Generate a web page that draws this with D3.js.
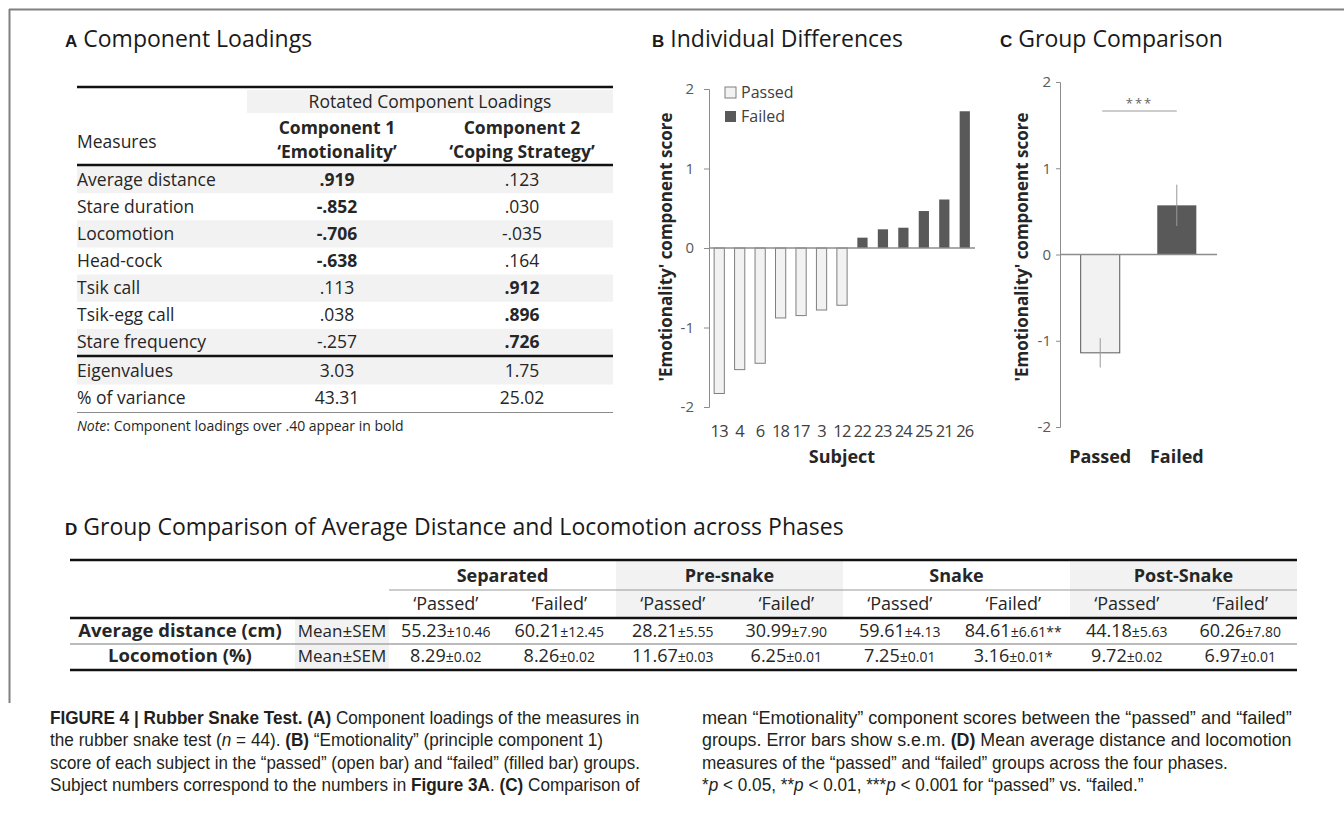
<!DOCTYPE html>
<html><head><meta charset="utf-8">
<script src="https://cdn.jsdelivr.net/npm/d3@7"></script>
<style>body{margin:0;background:#fff}svg{display:block}</style>
</head><body>
<svg id="fig" width="1344" height="818"></svg>
<script>
// ---------------- DATA ----------------
const loadMeasures = ["Average distance","Stare duration","Locomotion","Head-cock","Tsik call","Tsik-egg call","Stare frequency"];
const loadComp1 = [".919","-.852","-.706","-.638",".113",".038","-.257"];
const loadComp2 = [".123",".030","-.035",".164",".912",".896",".726"];
const boldThreshold = 0.40;
const summaryLabels = ["Eigenvalues","% of variance"];
const summaryComp1 = ["3.03","43.31"];
const summaryComp2 = ["1.75","25.02"];

const subjects = ["13","4","6","18","17","3","12","22","23","24","25","21","26"];
const subjectScores = [-1.83,-1.53,-1.45,-0.88,-0.85,-0.78,-0.72,0.13,0.235,0.255,0.465,0.61,1.72];
const subjectGroup = ["Passed","Passed","Passed","Passed","Passed","Passed","Passed","Failed","Failed","Failed","Failed","Failed","Failed"];

const groups = ["Passed","Failed"];
const groupMeans = [-1.14, 0.57];
const groupSEM = [0.17, 0.24];
const yTicks = [-2,-1,0,1,2];

const phases = ["Separated","Pre-snake","Snake","Post-Snake"];
const subHeads = ["‘Passed’","‘Failed’"];
const distMean = ["55.23","60.21","28.21","30.99","59.61","84.61","44.18","60.26"];
const distSEM  = ["10.46","12.45","5.55","7.90","4.13","6.61","5.63","7.80"];
const distSig  = ["","","","","","**","",""];
const locoMean = ["8.29","8.26","11.67","6.25","7.25","3.16","9.72","6.97"];
const locoSEM  = ["0.02","0.02","0.03","0.01","0.01","0.01","0.02","0.01"];
const locoSig  = ["","","","","","*","",""];

// ---------------- SETUP ----------------
const svg = d3.select("#fig");
const SANS = "'Open Sans', sans-serif";
const ARIAL = "'Liberation Sans', Arial, sans-serif";
const TXT = "#262626", SHADE = "#f2f2f2", AX = "#8c8c8c";
const fmtTick = d => String(d);

// frame
svg.append("line").attr("x1",9).attr("x2",1344).attr("y1",9.5).attr("y2",9.5).attr("stroke","#808080").attr("stroke-width",2);
svg.append("line").attr("x1",9.5).attr("x2",9.5).attr("y1",9).attr("y2",703).attr("stroke","#808080").attr("stroke-width",2);

function panelTitle(x, y, letter, text) {
  const t = svg.append("text").attr("x",x).attr("y",y).attr("font-family",SANS).attr("font-size",23).attr("fill","#1a1a1a");
  t.append("tspan").attr("font-family",ARIAL).attr("font-weight","bold").attr("font-size",17).text(letter);
  t.append("tspan").attr("dx",6).text(text);
}
function txt(g, x, y, s, opts={}) {
  return g.append("text").attr("x",x).attr("y",y)
    .attr("font-family",opts.font||SANS).attr("font-size",opts.size||17.5)
    .attr("font-weight",opts.bold?"bold":"normal").attr("fill",opts.fill||TXT)
    .attr("text-anchor",opts.anchor||"start").text(s);
}
function hline(g, x1, x2, y, w, c) {
  g.append("line").attr("x1",x1).attr("x2",x2).attr("y1",y).attr("y2",y).attr("stroke",c||"#111").attr("stroke-width",w);
}

// ---------------- PANEL A ----------------
panelTitle(65, 47, "A", "Component Loadings");
const gA = svg.append("g");
const A = {left:77, right:613, c1:337, c2:522};
const rowA = d3.scaleBand().domain(loadMeasures).range([166,356]);
const rowS = d3.scaleBand().domain(summaryLabels).range([357,412]);
gA.append("rect").attr("x",247).attr("y",90).attr("width",A.right-247).attr("height",23).attr("fill",SHADE);
txt(gA, 430, 108, "Rotated Component Loadings", {anchor:"middle"});
txt(gA, A.c1, 134, "Component 1", {anchor:"middle", bold:true});
txt(gA, A.c1, 158, "‘Emotionality’", {anchor:"middle", bold:true});
txt(gA, A.c2, 134, "Component 2", {anchor:"middle", bold:true});
txt(gA, A.c2, 158, "‘Coping Strategy’", {anchor:"middle", bold:true});
txt(gA, A.left, 148, "Measures");
loadMeasures.forEach((m,i) => {
  const y = rowA(m), h = rowA.bandwidth();
  if (i % 2 === 0) gA.append("rect").attr("x",A.left).attr("y",y).attr("width",A.right-A.left).attr("height",h).attr("fill",SHADE);
  const by = y + h/2 + 6;
  txt(gA, A.left, by, m);
  txt(gA, A.c1, by, loadComp1[i], {anchor:"middle", bold: Math.abs(parseFloat(loadComp1[i])) > boldThreshold});
  txt(gA, A.c2, by, loadComp2[i], {anchor:"middle", bold: Math.abs(parseFloat(loadComp2[i])) > boldThreshold});
});
summaryLabels.forEach((m,i) => {
  const y = rowS(m), h = rowS.bandwidth();
  if (i % 2 === 0) gA.append("rect").attr("x",A.left).attr("y",y).attr("width",A.right-A.left).attr("height",h).attr("fill",SHADE);
  const by = y + h/2 + 6;
  txt(gA, A.left, by, m);
  txt(gA, A.c1, by, summaryComp1[i], {anchor:"middle"});
  txt(gA, A.c2, by, summaryComp2[i], {anchor:"middle"});
});
hline(gA, A.left, A.right, 87, 2.5);
hline(gA, A.left, A.right, 165, 2.5);
hline(gA, A.left, A.right, 356, 2.5);
hline(gA, A.left, A.right, 412.5, 1.2, "#8a8a8a");
const note = gA.append("text").attr("x",A.left).attr("y",431).attr("font-family",SANS).attr("font-size",14).attr("fill",TXT);
note.append("tspan").attr("font-style","italic").text("Note");
note.append("tspan").text(": Component loadings over .40 appear in bold");

// ---------------- PANEL B ----------------
panelTitle(652, 47, "B", "Individual Differences");
const gB = svg.append("g");
const bX = d3.scaleBand().domain(subjects).range([709,975]).paddingInner(0.5).paddingOuter(0.25);
const bY = d3.scaleLinear().domain([-2,2]).range([407,89]);
gB.selectAll("rect.bar").data(subjects).join("rect").attr("class","bar")
  .attr("x", d => bX(d)).attr("width", bX.bandwidth())
  .attr("y", (d,i) => bY(Math.max(0, subjectScores[i])))
  .attr("height", (d,i) => Math.abs(bY(subjectScores[i]) - bY(0)))
  .attr("fill", (d,i) => subjectGroup[i] === "Passed" ? SHADE : "#595959")
  .attr("stroke", (d,i) => subjectGroup[i] === "Passed" ? "#7f7f7f" : "none")
  .attr("stroke-width", 1);
const bAxis = gB.append("g").attr("transform","translate(709,0)")
  .call(d3.axisLeft(bY).tickValues(yTicks).tickFormat(fmtTick).tickSize(5).tickPadding(10));
bAxis.select(".domain").attr("stroke",AX);
bAxis.selectAll(".tick line").attr("stroke",AX);
bAxis.selectAll(".tick text").attr("font-family",SANS).attr("font-size",15).attr("fill","#595959");
gB.append("line").attr("x1",bX.range()[0]).attr("x2",bX.range()[1]).attr("y1",bY(0)).attr("y2",bY(0)).attr("stroke",AX).attr("stroke-width",1.3);
gB.selectAll("text.xl").data(subjects).join("text").attr("class","xl")
  .attr("x", d => bX(d) + bX.bandwidth()/2).attr("y", 437)
  .attr("text-anchor","middle").attr("font-family",SANS).attr("font-size",16.5).attr("fill","#404040")
  .attr("letter-spacing",-0.8).text(d => d);
txt(gB, 842, 463, "Subject", {anchor:"middle", bold:true, size:18});
gB.append("text").attr("transform","translate(672,247) rotate(-90)").attr("text-anchor","middle")
  .attr("font-family",SANS).attr("font-size",17).attr("font-weight","bold").attr("fill",TXT)
  .text("'Emotionality' component score");
const legB = gB.append("g");
groups.forEach((g,i) => {
  legB.append("rect").attr("x",725).attr("y",87 + i*24).attr("width",11).attr("height",11)
    .attr("fill", i===0 ? SHADE : "#595959").attr("stroke", i===0 ? "#7f7f7f" : "none");
  txt(legB, 741, 98 + i*24, g, {size:16, fill:"#404040"});
});

// ---------------- PANEL C ----------------
panelTitle(1000, 47, "C", "Group Comparison");
const gC = svg.append("g");
const cX = d3.scaleBand().domain(groups).range([1060,1217]).paddingInner(0.49).paddingOuter(0.27);
const cY = d3.scaleLinear().domain([-2,2]).range([427,82]);
gC.selectAll("rect.bar").data(groups).join("rect").attr("class","bar")
  .attr("x", d => cX(d)).attr("width", cX.bandwidth())
  .attr("y", (d,i) => cY(Math.max(0, groupMeans[i])))
  .attr("height", (d,i) => Math.abs(cY(groupMeans[i]) - cY(0)))
  .attr("fill", (d,i) => i===0 ? SHADE : "#595959")
  .attr("stroke", (d,i) => i===0 ? "#595959" : "none").attr("stroke-width",1);
gC.selectAll("line.err").data(groups).join("line").attr("class","err")
  .attr("x1", d => cX(d)+cX.bandwidth()/2).attr("x2", d => cX(d)+cX.bandwidth()/2)
  .attr("y1", (d,i) => cY(groupMeans[i]-groupSEM[i])).attr("y2", (d,i) => cY(groupMeans[i]+groupSEM[i]))
  .attr("stroke","#999").attr("stroke-width",1);
const cAxis = gC.append("g").attr("transform","translate(1060,0)")
  .call(d3.axisLeft(cY).tickValues(yTicks).tickFormat(fmtTick).tickSize(4).tickPadding(5));
cAxis.select(".domain").attr("stroke",AX);
cAxis.selectAll(".tick line").attr("stroke",AX);
cAxis.selectAll(".tick text").attr("font-family",SANS).attr("font-size",15).attr("fill","#595959");
gC.append("line").attr("x1",cX.range()[0]).attr("x2",cX.range()[1]).attr("y1",cY(0)).attr("y2",cY(0)).attr("stroke",AX).attr("stroke-width",1.3);
groups.forEach(g => txt(gC, cX(g)+cX.bandwidth()/2, 463, g, {anchor:"middle", bold:true, size:18}));
gC.append("text").attr("transform","translate(1028,247) rotate(-90)").attr("text-anchor","middle")
  .attr("font-family",SANS).attr("font-size",17).attr("font-weight","bold").attr("fill",TXT)
  .text("'Emotionality' component score");
const sx1 = cX("Passed")+cX.bandwidth()/2+2, sx2 = cX("Failed")+cX.bandwidth()/2;
gC.append("line").attr("x1",sx1).attr("x2",sx2).attr("y1",111).attr("y2",111).attr("stroke","#999").attr("stroke-width",1);
txt(gC, (sx1+sx2)/2, 108, "***", {anchor:"middle", size:13, fill:"#666"}).attr("letter-spacing",2);

// ---------------- PANEL D ----------------
panelTitle(65, 535, "D", "Group Comparison of Average Distance and Locomotion across Phases");
const gD = svg.append("g");
const D = {left:70, right:1297, meanL:295, colStart:389};
const colD = d3.scaleBand().domain(d3.range(8)).range([D.colStart, D.right]);
const phaseX = i => colD(2*i);
const phaseW = colD.bandwidth()*2;
[1,3].forEach(i => gD.append("rect").attr("x",phaseX(i)).attr("y",561).attr("width",phaseW).attr("height",57).attr("fill",SHADE));
gD.append("rect").attr("x",D.meanL).attr("y",619).attr("width",D.colStart-D.meanL).attr("height",51).attr("fill",SHADE);
phases.forEach((p,i) => txt(gD, phaseX(i)+phaseW/2, 582, p, {anchor:"middle", bold:true, size:18}));
d3.range(8).forEach(j => txt(gD, colD(j)+colD.bandwidth()/2, 610, subHeads[j%2], {anchor:"middle", size:18}));
const rowsD = [
  {label:"Average distance (cm)", mean:distMean, sem:distSEM, sig:distSig, y:637},
  {label:"Locomotion (%)", mean:locoMean, sem:locoSEM, sig:locoSig, y:662}
];
rowsD.forEach(r => {
  txt(gD, 180, r.y, r.label, {anchor:"middle", bold:true, size:18.5});
  txt(gD, 342, r.y, "Mean±SEM", {anchor:"middle", size:17});
  d3.range(8).forEach(j => {
    const t = gD.append("text").attr("x", colD(j)+colD.bandwidth()/2).attr("y", r.y)
      .attr("text-anchor","middle").attr("font-family",SANS).attr("font-size",18).attr("fill",TXT);
    t.append("tspan").text(r.mean[j]);
    t.append("tspan").attr("font-size",14).text("±" + r.sem[j] + r.sig[j]);
  });
});
hline(gD, D.left, D.right, 560, 2.5);
hline(gD, D.colStart, D.right, 590, 1.2, "#9a9a9a");
hline(gD, D.left, D.right, 618, 2.5);
hline(gD, D.left, D.right, 644, 1.5, "#a6a6a6");
hline(gD, D.left, D.right, 670, 2.5);

// ---------------- CAPTION ----------------
const capLines = [
  {x:50, y:724, w:590, segs:[["FIGURE 4 | Rubber Snake Test. (A)","b"],[" Component loadings of the measures in",""]]},
  {x:50, y:746, w:0, segs:[["the rubber snake test (",""],["n","i"],[" = 44). ",""],["(B)","b"],[" “Emotionality” (principle component 1)",""]]},
  {x:50, y:769, w:590, segs:[["score of each subject in the “passed” (open bar) and “failed” (filled bar) groups.",""]]},
  {x:50, y:791, w:590, segs:[["Subject numbers correspond to the numbers in ",""],["Figure 3A","b"],[". ",""],["(C)","b"],[" Comparison of",""]]},
  {x:702, y:724, w:590, segs:[["mean “Emotionality” component scores between the “passed” and “failed”",""]]},
  {x:702, y:746, w:590, segs:[["groups. Error bars show s.e.m. ",""],["(D)","b"],[" Mean average distance and locomotion",""]]},
  {x:702, y:769, w:0, segs:[["measures of the “passed” and “failed” groups across the four phases.",""]]},
  {x:702, y:791, w:0, segs:[["*",""],["p","i"],[" < 0.05, **",""],["p","i"],[" < 0.01, ***",""],["p","i"],[" < 0.001 for “passed” vs. “failed.”",""]]}
];
const capNodes = capLines.map(l => {
  const t = svg.append("text").attr("x",0).attr("y",0).attr("font-family",ARIAL).attr("font-size",18)
    .attr("fill","#231f20");
  l.segs.forEach(s => {
    const ts = t.append("tspan").text(s[0]);
    if (s[1]==="b") ts.attr("font-weight","bold");
    if (s[1]==="i") ts.attr("font-style","italic");
  });
  return t;
});
const scales = capLines.map((l,i) => l.w ? l.w / capNodes[i].node().getComputedTextLength() : null);
const baseScale = d3.median(scales.filter(s => s));
capLines.forEach((l,i) => {
  const s = scales[i] || baseScale;
  capNodes[i].attr("transform", `translate(${l.x},${l.y}) scale(${s},1)`);
});
</script>
</body></html>
